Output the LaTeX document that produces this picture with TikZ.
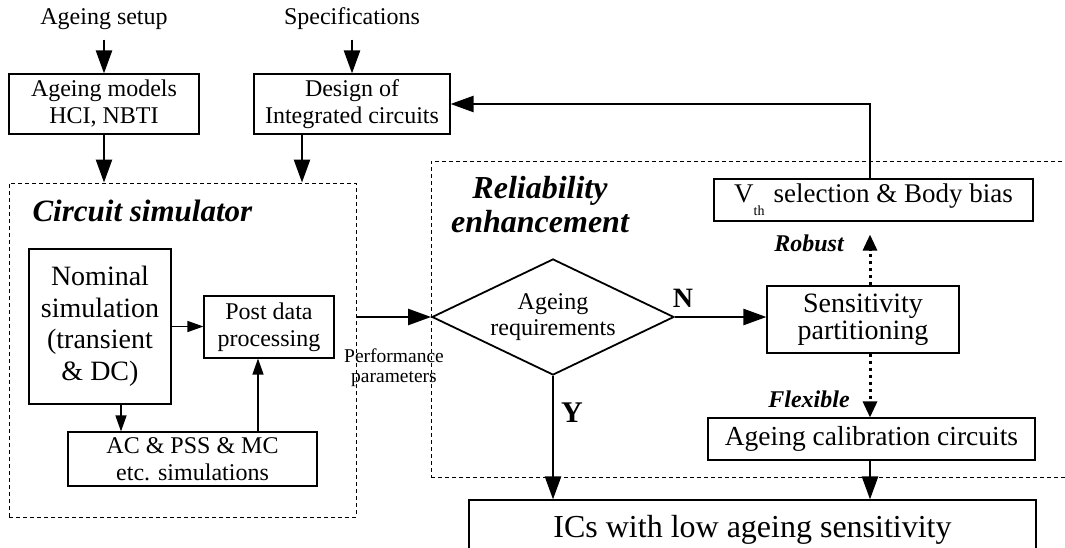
\documentclass[tikz,border=0pt]{standalone}
\usepackage{fontspec}
\setmainfont{Liberation Serif}
\usetikzlibrary{arrows.meta,shapes.geometric}
\begin{document}
\begin{tikzpicture}[x=1pt,y=-1pt,
  box/.style={draw,line width=1.1pt,inner sep=0pt,align=center},
  dbox/.style={draw,line width=0.9pt,dash pattern=on 4pt off 3pt,inner sep=0pt},
  thickarr/.style={line width=2.4pt,-{Triangle[length=23pt,width=16pt]}},
  thinarr/.style={line width=1.3pt,-{Triangle[length=16pt,width=11pt]}},
  dotarr/.style={line width=3pt,dash pattern=on 3.5pt off 3.5pt,-{Triangle[length=16pt,width=14pt]}},
  fa/.style={font=\fontsize{24}{27}\selectfont},
  lbl/.style={font=\fontsize{24}{24}\selectfont\bfseries\itshape}
]
\useasboundingbox (0,0) rectangle (1065,548);
% dashed groups
\node[dbox,minimum width=347pt,minimum height=334pt] (sim) at (182.5,350) {};
\node[dbox,minimum width=644pt,minimum height=316pt] (rel) at (753,319) {};
% top inputs
\node[fa,anchor=base] (setup) at (104,25) {Ageing setup};
\node[box,fa,minimum width=190pt,minimum height=60pt] (models) at (104,104) {Ageing models\\HCI, NBTI};
\node[fa,anchor=base] (spec) at (352,25) {Specifications};
\node[box,fa,minimum width=196pt,minimum height=60pt] (design) at (352,104) {Design of\\Integrated circuits};
% circuit simulator
\node[font=\fontsize{31}{34}\selectfont\bfseries\itshape,anchor=base west] (simlbl) at (29,222) {Circuit simulator};
\node[box,font=\fontsize{28}{31.5}\selectfont,minimum width=142pt,minimum height=155pt] (nominal) at (100,326.5) {Nominal\\simulation\\(transient\\\& DC)};
\node[box,fa,minimum width=130pt,minimum height=62pt] (post) at (269,327) {Post data\\processing};
\node[box,fa,minimum width=249pt,minimum height=54pt] (ac) at (192.5,459) {AC \& PSS \& MC\\etc. simulations};
% reliability enhancement
\node[font=\fontsize{32}{34}\selectfont\bfseries\itshape,align=center] (rellbl) at (540,205) {Reliability\\enhancement};
\node[diamond,draw,line width=1.8pt,inner sep=0pt,aspect=2.09,minimum width=242pt,minimum height=116pt,align=center,font=\fontsize{24}{26}\selectfont] (req) at (553,317) {Ageing\\requirements};
\node[box,font=\fontsize{28}{27}\selectfont,minimum width=192pt,minimum height=67pt] (sens) at (863,319.5) {Sensitivity\\partitioning};
\node[box,font=\fontsize{27}{30}\selectfont,minimum width=319pt,minimum height=42pt] (vth) at (873.5,200) {V\raisebox{-13pt}{\fontsize{14}{14}\selectfont th}\,\,selection \& Body bias};
\node[box,font=\fontsize{27.5}{30}\selectfont,minimum width=327pt,minimum height=42pt] (calib) at (871.5,439) {Ageing calibration circuits};
\node[box,font=\fontsize{32}{34}\selectfont,minimum width=567pt,minimum height=60pt] (ics) at (752.5,530) {ICs with low ageing sensitivity};
% labels
\node[font=\fontsize{19.5}{20.5}\selectfont,align=center] (perf) at (394,367.5) {Performance\\parameters};
\node[font=\fontsize{28}{28}\selectfont\bfseries] (N) at (683,298.5) {N};
\node[font=\fontsize{30}{30}\selectfont\bfseries] (Y) at (572,412.5) {Y};
\node[lbl,anchor=base] (rob) at (809,251) {Robust};
\node[lbl,anchor=base] (flex) at (809,407) {Flexible};
% helper coordinates
\coordinate (c870) at (870,0);
\coordinate (d1) at (302,0);
\coordinate (a1) at (121,0);
\coordinate (a2) at (258,0);
% connectors
\draw[thickarr,shorten <=6pt] (setup.south) -- (models.north);
\draw[thickarr,shorten <=6pt] (spec.south) -- (design.north);
\draw[thickarr] (models.south) -- (models.south |- sim.north);
\draw[thickarr] (design.south -| d1) -- (sim.north -| d1);
\draw[thinarr] (nominal.east) -- (nominal.east -| post.west);
\draw[thinarr] (nominal.south -| a1) -- (ac.north -| a1);
\draw[thinarr] (ac.north -| a2) -- (post.south -| a2);
\draw[thickarr] (req.west -| sim.east) -- (req.west);
\draw[thickarr] (req.east) -- (req.east -| sens.west);
\draw[thickarr] (req.south) -- (req.south |- ics.north);
\draw[dotarr,shorten >=13pt] (sens.north -| c870) -- (vth.south -| c870);
\draw[dotarr] (sens.south -| c870) -- (calib.north -| c870);
\draw[thickarr] (calib.south -| c870) -- (ics.north -| c870);
\draw[thickarr] (vth.north -| c870) -- (c870 |- design.east) -- (design.east);
\end{tikzpicture}
\end{document}
